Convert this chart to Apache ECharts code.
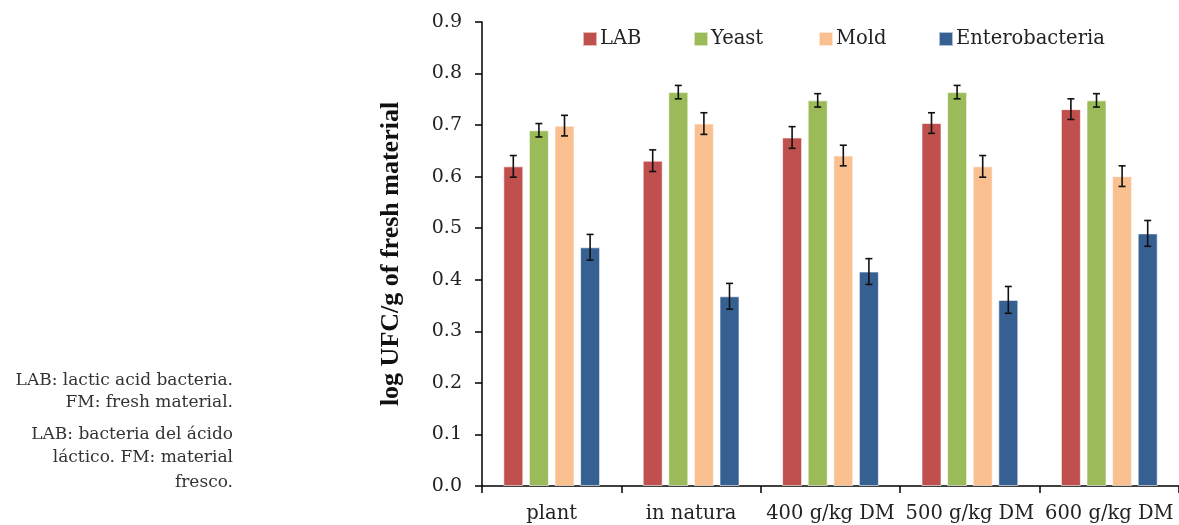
<!DOCTYPE html>
<html><head><meta charset="utf-8">
<script src="https://cdn.jsdelivr.net/npm/echarts@6/dist/echarts.min.js"></script>
<style>html,body{margin:0;padding:0;background:#fff}#c{width:1179px;height:525px}</style>
</head><body><div id="c"></div>
<script>
const categories = ['plant', 'in natura', '400 g/kg DM', '500 g/kg DM', '600 g/kg DM'];
const seriesNames = ['LAB', 'Yeast', 'Mold', 'Enterobacteria'];
const LAB = [0.620, 0.631, 0.676, 0.704, 0.731];
const Yeast = [0.690, 0.764, 0.748, 0.764, 0.748];
const Mold = [0.699, 0.703, 0.641, 0.620, 0.601];
const Entero = [0.463, 0.368, 0.416, 0.361, 0.490];
const LAB_err = [0.021, 0.021, 0.021, 0.020, 0.020];
const Yeast_err = [0.013, 0.013, 0.013, 0.013, 0.013];
const Mold_err = [0.020, 0.021, 0.020, 0.021, 0.020];
const Entero_err = [0.025, 0.025, 0.025, 0.026, 0.025];
const yTicks = ['0.0','0.1','0.2','0.3','0.4','0.5','0.6','0.7','0.8','0.9'];
const notes = ['LAB: lactic acid bacteria.', 'FM: fresh material.', 'LAB: bacteria del ácido', 'láctico. FM: material', 'fresco.'];

const values = [LAB, Yeast, Mold, Entero];
const errs = [LAB_err, Yeast_err, Mold_err, Entero_err];
const colors = ['#C0504D', '#9BBB59', '#FAC090', '#376092'];
const legendLeft = [582, 693, 818, 938];
const noteY = [382, 404, 436, 459, 484];
const BW = 20, GAP = '28%';
const FONT = 'DejaVu Serif';
const TFONT = 'Liberation Serif';

const chart = echarts.init(document.getElementById('c'), null, {renderer: 'canvas'});
const series = [];
seriesNames.forEach((n, i) => {
  series.push({
    name: n, type: 'bar', data: values[i], barWidth: BW, barGap: GAP,
    itemStyle: {color: colors[i], borderColor: 'rgba(255,255,255,0.6)', borderWidth: 1},
    z: 2
  });
});
seriesNames.forEach((n, i) => {
  series.push({
    type: 'custom', name: n + '_err', z: 5, silent: true,
    data: values[i].map((v, k) => [k, v - errs[i][k], v + errs[i][k]]),
    renderItem: function (params, api) {
      const layout = api.barLayout({count: 4, barWidth: BW, barGap: GAP});
      const off = layout[i].offsetCenter;
      const lo = api.coord([api.value(0), api.value(1)]);
      const hi = api.coord([api.value(0), api.value(2)]);
      const x = lo[0] + off;
      const cap = 3.5;
      const st = {stroke: '#111', lineWidth: 1.6};
      return {type: 'group', children: [
        {type: 'line', shape: {x1: x, y1: hi[1], x2: x, y2: lo[1]}, style: st},
        {type: 'line', shape: {x1: x - cap, y1: hi[1], x2: x + cap, y2: hi[1]}, style: st},
        {type: 'line', shape: {x1: x - cap, y1: lo[1], x2: x + cap, y2: lo[1]}, style: st}
      ]};
    }
  });
});

const legends = seriesNames.map((n, i) => ({
  data: [n], top: 29, left: legendLeft[i], padding: 0, itemWidth: 14, itemHeight: 14, itemGap: 0,
  icon: 'rect', selectedMode: false,
  textStyle: {fontFamily: FONT, fontSize: 19.5, color: '#222', padding: [0, 0, 0, -2]}
}));

chart.setOption({
  animation: false,
  textStyle: {fontFamily: FONT},
  grid: {left: 482, right: -3, top: 22, bottom: 39, containLabel: false},
  legend: legends,
  xAxis: {
    type: 'category', data: categories,
    axisLine: {lineStyle: {color: '#000', width: 1.5}},
    axisTick: {show: true, interval: 0, length: 7, lineStyle: {color: '#000', width: 1.5}},
    axisLabel: {interval: 0, fontFamily: FONT, fontSize: 19.5, color: '#222', margin: 18}
  },
  yAxis: {
    type: 'value', min: 0, max: 0.9, interval: 0.1,
    name: 'log UFC/g of fresh material', nameLocation: 'middle', nameGap: 78,
    nameTextStyle: {fontFamily: TFONT, fontSize: 26, fontWeight: 'bold', color: '#111'},
    axisLine: {show: true, lineStyle: {color: '#000', width: 1.5}},
    axisTick: {show: true, length: 7, lineStyle: {color: '#000', width: 1.5}},
    splitLine: {show: false},
    axisLabel: {fontFamily: FONT, fontSize: 19, color: '#222', margin: 20,
      formatter: (v) => yTicks[Math.round(v * 10)]}
  },
  series: series,
  graphic: notes.map((t, k) => ({type: 'text', right: 1179 - 233, top: noteY[k] - 10,
    style: {text: t, fill: '#333', font: '17px "' + FONT + '"', textAlign: 'right'}}))
});
</script></body></html>
